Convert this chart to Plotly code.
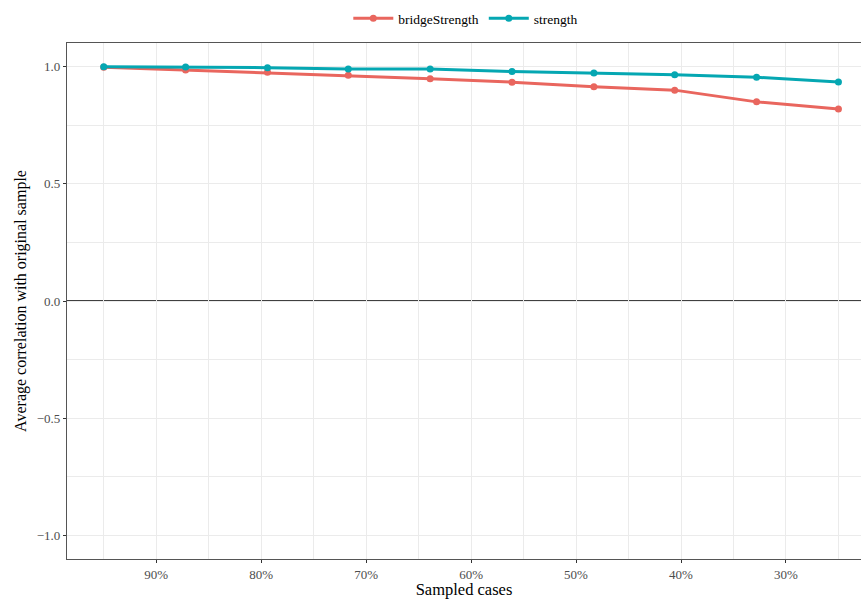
import plotly.graph_objects as go

sampled_pct = [95.0, 87.2, 79.4, 71.7, 63.9, 56.1, 48.3, 40.6, 32.8, 25.0]
bridge_strength = [0.997, 0.985, 0.975, 0.962, 0.948, 0.933, 0.913, 0.899, 0.849, 0.819]
strength = [0.999, 0.998, 0.995, 0.989, 0.989, 0.978, 0.972, 0.965, 0.954, 0.934]

x_ticks = [90, 80, 70, 60, 50, 40, 30]
x_ticklabels = [f"{v}%" for v in x_ticks]
y_ticks = [-1.0, -0.5, 0.0, 0.5, 1.0]

RED = "#E9665E"
TEAL = "#05A7B2"
FONT = "Liberation Serif, Times New Roman, serif"

fig = go.Figure()
fig.add_trace(go.Scatter(x=sampled_pct, y=bridge_strength, mode="lines+markers",
                         name="bridgeStrength", line=dict(color=RED, width=3),
                         marker=dict(color=RED, size=7)))
fig.add_trace(go.Scatter(x=sampled_pct, y=strength, mode="lines+markers",
                         name="strength", line=dict(color=TEAL, width=3),
                         marker=dict(color=TEAL, size=7)))

fig.add_hline(y=0, line=dict(color="black", width=1.6), layer="below")

grid = "#EBEBEB"
fig.update_layout(
    width=861, height=599,
    margin=dict(l=67, r=0, t=43, b=40, autoexpand=False),
    paper_bgcolor="white", plot_bgcolor="white",
    font=dict(family=FONT, size=12, color="#4D4D4D"),
    showlegend=True,
    legend=dict(orientation="h", xref="container", yref="container",
                x=0.541, xanchor="center", y=0.995, yanchor="top",
                font=dict(family=FONT, size=13.5, color="black"),
                itemwidth=40, bgcolor="rgba(0,0,0,0)"),
    xaxis=dict(range=[98.5, 22.85], tickvals=x_ticks, ticktext=x_ticklabels,
               automargin=False,
               showgrid=True, gridcolor=grid, gridwidth=1.2,
               minor=dict(tickvals=[95, 85, 75, 65, 55, 45, 35, 25], showgrid=True,
                          gridcolor=grid, gridwidth=0.6),
               showline=True, linecolor="#555555", linewidth=1.2, mirror=True,
               ticks="outside", ticklen=3, tickcolor="#333333",
               tickfont=dict(family=FONT, size=13, color="#4D4D4D"),
               zeroline=False,
               title=dict(text="Sampled cases", standoff=2,
                          font=dict(family=FONT, size=16.5, color="black"))),
    yaxis=dict(range=[-1.1, 1.1], tickvals=y_ticks, tickformat=".1f",
               automargin=False,
               showgrid=True, gridcolor=grid, gridwidth=1.2,
               minor=dict(tickvals=[-0.75, -0.25, 0.25, 0.75], showgrid=True,
                          gridcolor=grid, gridwidth=0.6),
               showline=True, linecolor="#555555", linewidth=1.2, mirror=False,
               ticks="outside", ticklen=3, tickcolor="#333333",
               tickfont=dict(family=FONT, size=13, color="#4D4D4D"),
               zeroline=False,
               title=dict(text="Average correlation with original sample", standoff=6,
                          font=dict(family=FONT, size=16, color="black"))),
)

fig.write_html(
    "out.html",
    config={"displayModeBar": False},
    post_script="document.body.style.margin='0';document.body.style.overflow='hidden';",
)
